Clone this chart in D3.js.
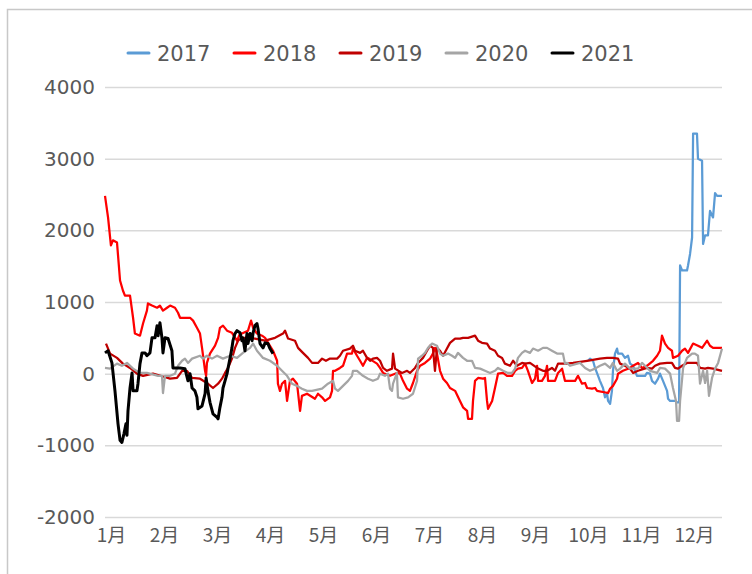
<!DOCTYPE html>
<html>
<head>
<meta charset="utf-8">
<script src="https://cdn.jsdelivr.net/npm/d3@7"></script>
<style>
  html, body { margin: 0; padding: 0; background: #fff; }
  svg { display: block; }
</style>
</head>
<body>
<svg id="chart" width="752" height="574"></svg>
<script>

// series: [day of year, value]
var s2017 = [
  [285.8, 180], [286.9, 210], [288.7, 180], [289.9, 80], [291.7, -30], [292.8, -100], [294.6, -200],
  [295.8, -330], [297, -280], [297.6, -380], [298.8, -420], [299.9, -240], [300.5, 40], [301.7, 280],
  [302.9, 350], [303.5, 280], [305.9, 280], [307.6, 220], [309.4, 250], [310.6, 140], [312.4, 110],
  [314.7, -30], [319.5, -30], [320.6, 10], [322.4, 0], [323.6, -100], [325.4, -140], [327.2, -70],
  [328.3, 0], [330.1, -100], [332.5, -240], [333.1, -350], [334.3, -380], [337.2, -380], [338.4, -400],
  [339.6, -400], [340.2, 1510], [341.4, 1440], [344.3, 1440], [344.9, 1510], [346.1, 1670], [347.3, 1900],
  [347.9, 3350], [350.2, 3350], [350.8, 3000], [353.2, 2970], [353.8, 1810], [355, 1930], [356.7, 1930],
  [357.9, 2270], [359.7, 2180], [360.9, 2520], [362.1, 2480], [365, 2480]
];

var s2018 = [
  [0, 2480], [1.8, 2180], [3.5, 1790], [4.7, 1860], [7.1, 1830], [8.9, 1300], [10.6, 1160], [11.8, 1090],
  [14.8, 1090], [16.6, 780], [17.7, 560], [20.7, 530], [22.5, 700], [24.8, 880], [25.4, 980], [27.8, 950],
  [30.8, 920], [32.5, 950], [34.3, 880], [36.7, 920], [38.5, 950], [41.4, 920], [43.2, 850], [44.4, 780],
  [50.3, 780], [52.1, 740], [54.4, 640], [56.2, 560], [57.4, 360], [59.2, 40], [59.8, -30], [60.3, 150],
  [62.1, 280], [65.1, 390], [66.9, 500], [68, 640], [69.8, 670], [72.2, 600], [75.1, 570], [78.1, 460],
  [79.9, 560], [81, 560], [84.6, 600], [86.4, 740], [87.6, 640], [89.9, 560], [92.9, 530], [94.7, 500],
  [99.4, 320], [101.8, 180], [102.3, -140], [103.5, -240], [104.7, -140], [106.5, -100], [107.7, -380],
  [109.4, -100], [111.2, -70], [113.6, -140], [115.4, -520], [116.5, -310], [119.5, -280], [124.2, -350],
  [126, -280], [128.4, -330], [130.2, -380], [133.1, -330], [134.3, -240], [134.9, 40], [136.1, 40],
  [139, 80], [140.8, 110], [143.2, 280], [146.1, 280], [146.7, 350], [149.1, 250], [150.9, 180],
  [152.6, 110], [155, 220], [156.2, 210], [160.9, 140], [162.7, 80], [164.5, 10], [168.6, -30],
  [172.7, 10], [174.5, 0], [176.3, -100], [178.7, -210], [180.4, -240], [182.2, -130], [184.6, 40],
  [186.4, 110], [189.3, 150], [192.3, 210], [194, 280], [195.2, 360], [196.4, 280], [198.2, 40],
  [200, -70], [202.3, -130], [204.1, -200], [207.1, -240], [210, -380], [211.8, -470], [214.2, -520],
  [214.8, -630], [217.1, -630], [217.7, -380], [218.9, -100], [220.7, -60], [223.6, -70], [224.8, -60],
  [226, -380], [226.6, -490], [229, -380], [230.7, -200], [232.5, 0], [235.5, 10], [237.8, -30],
  [240.8, -30], [242.6, 40], [244.3, 70], [246.7, 80], [248.5, 140], [250.2, 40], [252.6, -130],
  [254.4, -70], [255.6, 110], [256.2, -100], [258.5, -100], [260.3, -30], [261.5, 110], [262.1, -100],
  [266.2, -100], [268, 10], [270.4, 70], [272.1, -100], [278.1, -100], [279.8, -30], [282.2, -140],
  [284, -130], [285.2, -200], [288.1, -210], [289.9, -200], [291.1, -240], [297.6, -270], [298.8, -210],
  [300.5, -170], [302.9, -70], [303.5, 0], [306.4, 40], [310.6, 80], [312.4, 110], [315.3, 150],
  [317.7, 80], [320.6, 110], [324.2, 180], [326.6, 250], [328.3, 320], [329.5, 530], [331.3, 420],
  [333.1, 360], [335.4, 320], [336, 220], [339, 250], [341.4, 320], [343.1, 350], [344.9, 290],
  [347.9, 420], [350.8, 390], [353.2, 360], [356.2, 460], [357.9, 390], [359.7, 360], [365, 360]
];

var s2019 = [
  [0.6, 420], [3, 280], [7.1, 220], [10.6, 140], [14.8, 80], [18.9, 0], [22.5, -30], [28.4, 0],
  [34.3, -40], [38.5, -70], [42.6, -60], [45.6, 40], [48.5, 40], [51.5, -60], [56.2, -70], [60.3, -130],
  [63.9, -200], [66.9, -140], [69.2, -70], [71, 10], [72.8, 80], [75.1, 210], [76.9, 360], [78.7, 460],
  [81, 500], [84.6, 500], [88.7, 490], [94.7, 460], [100.6, 500], [105.3, 560], [106.5, 600], [108.3, 490],
  [112.4, 460], [114.2, 360], [117.1, 290], [120.1, 220], [122.5, 150], [126, 150], [128.4, 210],
  [130.7, 180], [133.1, 210], [137.3, 210], [139, 250], [140.8, 320], [144.9, 350], [146.7, 390],
  [147.9, 320], [150.9, 290], [152.6, 320], [155, 220], [156.8, 180], [158.5, 210], [160.9, 220],
  [162.7, 180], [164.5, 80], [166.8, 40], [169.8, 70], [170.4, 280], [171.6, 70], [175.7, 10],
  [178.7, 40], [180.4, 10], [183.4, 80], [185.2, 150], [188.1, 220], [190.5, 320], [192.3, 390],
  [194, 360], [195.2, 40], [196.4, 360], [198.2, 320], [200, 250], [202.3, 350], [204.1, 430],
  [207.1, 490], [210, 490], [211.8, 500], [214.8, 500], [218.9, 530], [220.7, 460], [223, 430],
  [226, 420], [227.8, 350], [230.7, 320], [232.5, 250], [234.9, 220], [236.6, 140], [239.6, 110],
  [241.4, 180], [243.7, 110], [246.7, 150], [248.5, 140], [251.4, 150], [255.6, 80], [259.1, 40],
  [261.5, 40], [264.4, 80], [266.2, 40], [268, 140], [273.3, 140], [276.9, 150], [285.2, 180],
  [292.8, 210], [297, 220], [300.5, 220], [303.5, 210], [304.7, 140], [307.6, 110], [310.6, 70],
  [312.4, 10], [315.3, 40], [320.6, 80], [323.6, 70], [325.4, 110], [328.3, 140], [332.5, 150],
  [335.4, 150], [337.2, 80], [339, 70], [341.4, 110], [344.3, 150], [350.2, 150], [352, 80],
  [355, 70], [356.7, 80], [359.7, 70], [365, 40]
];

var s2020 = [
  [0, 80], [3, 70], [7.1, 140], [10, 110], [13, 150], [16.6, 70], [20.7, 10], [24.8, 10], [31.4, -30],
  [33.7, -30], [34.3, -270], [35.5, -30], [38.5, -30], [41.4, 0], [43.2, 110], [45.6, 180], [47.3, 210],
  [49.1, 150], [51.5, 210], [56.2, 250], [58, 210], [60.3, 250], [63.3, 210], [66.3, 250], [69.8, 210],
  [74, 250], [78.1, 220], [81.6, 290], [85.8, 360], [87.6, 420], [89.9, 320], [93.5, 220], [97.6, 180],
  [101.8, 110], [104.7, 40], [107.7, -30], [110.6, -140], [113.6, -170], [116.5, -210], [119.5, -240],
  [122.5, -240], [128.4, -210], [131.9, -140], [134.9, -100], [136.1, -210], [137.8, -240], [140.8, -170],
  [143.8, -100], [146.1, -30], [146.7, 40], [149.1, 40], [152.6, -30], [155.6, -70], [158.5, -100],
  [161.5, -70], [162.7, 0], [165.6, -30], [167.4, 0], [168.6, -210], [169.8, -240], [170.4, -140],
  [172.7, 10], [173.3, -330], [176.3, -350], [179.3, -330], [182.2, -280], [184.6, -100], [185.2, 210],
  [187.5, 250], [189.3, 290], [191.1, 360], [193.5, 420], [196.4, 390], [198.2, 280], [200, 250],
  [202.9, 280], [205.3, 250], [207.1, 220], [208.8, 290], [211.8, 220], [214.2, 180], [217.1, 180],
  [218.9, 80], [221.9, 70], [224.8, 40], [227.8, 10], [230.7, 40], [232.5, 80], [235.5, 40], [238.4, 10],
  [240.8, 10], [242.6, 70], [244.3, 220], [246.7, 290], [248.5, 320], [251.4, 290], [253.2, 350],
  [256.2, 320], [259.1, 360], [261.5, 360], [264.4, 320], [267.4, 280], [270.9, 280], [272.1, 140],
  [273.3, 150], [275.1, 110], [281, 150], [284, 80], [286.9, 40], [289.9, 70], [292.8, 110], [295.8, 140],
  [298.8, 80], [300.5, 150], [302.9, 40], [304.7, 70], [307.6, 140], [310.6, 70], [315.3, 70],
  [317.7, 150], [319.5, 110], [322.4, 40], [326.6, 10], [328.3, 80], [331.3, 70], [334.3, 0],
  [336, -200], [337.8, -380], [338.4, -660], [339.6, -660], [340.2, -380], [342, 80], [344.3, 220],
  [347.3, 280], [349, 280], [350.8, 250], [352, -140], [353.8, 40], [355, -130], [356.2, 40],
  [357.3, -310], [359.1, -60], [360.9, 70], [362.7, 150], [365, 350]
];

var s2021 = [
  [0, 290], [1.8, 320], [4.1, 150], [5.9, -240], [7.7, -700], [8.9, -930], [10, -960], [11.2, -840],
  [12.4, -700], [13, -860], [13.6, -520], [14.8, -200], [16, 10], [16.6, -240], [18.9, -240], [19.5, -140],
  [20.7, 140], [21.9, 290], [23.7, 290], [24.8, 250], [26.6, 290], [27.8, 500], [29.6, 500], [30.8, 670],
  [31.4, 530], [32.5, 710], [33.7, 500], [34.3, 290], [35.5, 500], [37.3, 490], [39.6, 320], [40.2, 80],
  [44.4, 80], [47.3, 70], [49.1, -100], [50.3, 0], [51.5, -200], [53.2, -240], [54.4, -330], [55, -490],
  [57.4, -450], [59.2, -280], [59.8, -60], [60.9, -240], [62.1, -400], [63.9, -560], [66.3, -610],
  [66.9, -630], [68, -470], [69.2, -330], [69.8, -200], [71, -100], [72.2, 0], [72.8, 80], [74, 220],
  [75.1, 360], [75.7, 460], [76.9, 560], [78.1, 600], [79.9, 570], [81, 460], [81.6, 500], [82.8, 320],
  [84, 560], [84.6, 420], [85.8, 560], [87, 460], [87.6, 570], [88.7, 670], [89.9, 700], [90.5, 630],
  [91.7, 420], [93.5, 360], [94.7, 430], [96.4, 420], [97.6, 350], [99.4, 280]
];

var years = ["2017", "2018", "2019", "2020", "2021"];
var colors = ["#5B9BD5", "#FF0000", "#C00000", "#A5A5A5", "#000000"];
var seriesData = [s2017, s2018, s2019, s2020, s2021];
var months = ["1月", "2月", "3月", "4月", "5月", "6月", "7月", "8月", "9月", "10月", "11月", "12月"];
var yTicks = [-2000, -1000, 0, 1000, 2000, 3000, 4000];

var svg = d3.select("#chart");

// outer frame (only left + top edges are inside the picture)
svg.append("path")
    .attr("d", "M7.5,574V9.5H752")
    .attr("fill", "none")
    .attr("stroke", "#c8c8c8")
    .attr("stroke-width", 1.5);

var x = d3.scaleLinear().domain([0, 365]).range([105, 722]);
var y = d3.scaleLinear().domain([-2000, 4000]).range([517, 87]);
var xLabel = d3.scalePoint().domain(months).range([111, 694]);

// gridlines + y labels
var yAxis = d3.axisLeft(y)
    .tickValues(yTicks)
    .tickFormat(function (d) { return String(d); })
    .tickSize(-(722 - 105))
    .tickPadding(10);

var gy = svg.append("g")
    .attr("transform", "translate(105,0)")
    .call(yAxis);

gy.select(".domain").remove();
gy.selectAll(".tick line")
    .attr("stroke", "#d9d9d9")
    .attr("stroke-width", 1.5);
gy.selectAll(".tick text")
    .attr("fill", "#595959")
    .style("font-family", "'DejaVu Sans', Verdana, sans-serif")
    .style("font-size", "20px");

// month labels
var xAxis = d3.axisBottom(xLabel).tickSize(0).tickPadding(0);

var gx = svg.append("g")
    .attr("transform", "translate(0,526)")
    .call(xAxis);

gx.select(".domain").remove();
gx.selectAll(".tick text")
    .attr("fill", "#595959")
    .attr("dy", "0.85em")
    .style("font-family", "'Noto Sans CJK SC', 'DejaVu Sans', sans-serif")
    .style("font-size", "19px");

// lines
var line = d3.line()
    .x(function (d) { return x(d[0]); })
    .y(function (d) { return y(d[1]); });

seriesData.forEach(function (data, i) {
    svg.append("path")
        .datum(data)
        .attr("fill", "none")
        .attr("stroke", colors[i])
        .attr("stroke-width", i == 4 ? 3 : 2.25)
        .attr("stroke-linejoin", "round")
        .attr("d", line);
});

// legend
var legend = svg.append("g")
    .attr("transform", "translate(128,53)");

var item = legend.selectAll("g")
    .data(years)
    .enter()
    .append("g")
    .attr("transform", function (d, i) { return "translate(" + (i * 106) + ",0)"; });

item.append("line")
    .attr("x1", 0)
    .attr("x2", 21)
    .attr("stroke", function (d, i) { return colors[i]; })
    .attr("stroke-width", 3)
    .attr("stroke-linecap", "round");

item.append("text")
    .attr("x", 29)
    .attr("dy", "0.36em")
    .attr("fill", "#595959")
    .style("font-family", "'DejaVu Sans', sans-serif")
    .style("font-size", "21px")
    .text(function (d) { return d; });

</script>
</body>
</html>
